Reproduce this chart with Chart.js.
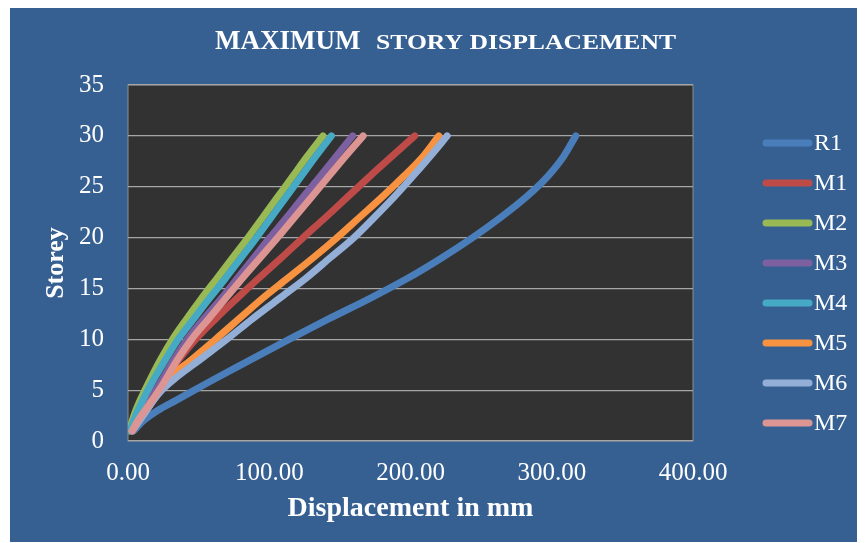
<!DOCTYPE html>
<html>
<head>
<meta charset="utf-8">
<title>Maximum Story Displacement</title>
<script src="https://cdn.jsdelivr.net/npm/chart.js@4"></script>
<style>
    html, body { margin: 0; padding: 0; background: #ffffff; }
    #wrap { position: absolute; left: 10px; top: 8px; width: 847px; height: 534px; }
</style>
</head>
<body>
<div id="wrap"><canvas id="storyChart" width="847" height="534"></canvas></div>
<script>
// Storey levels the displacements were read at
const storeys = [1, 2, 3, 4, 5, 6, 8, 10, 12, 14, 16, 18, 20, 22, 24, 26, 28, 30];

// Displacement in mm for each model, same order as storeys
const R1 = [4, 11, 21, 34, 47, 60, 87, 114, 142, 171, 198, 222, 244, 264, 282, 297, 308.5, 317];
const M1 = [2, 6, 10.5, 15, 20, 25, 36, 48, 62, 77, 92.5, 108.5, 124, 140, 155.5, 171, 187, 203];
const M2 = [1, 3, 5.5, 8.5, 12, 15.5, 23, 31.5, 41.5, 52, 63, 74, 85, 95.5, 106, 116.5, 127, 138];
const M3 = [2, 5, 9.5, 14.5, 19.5, 24, 32.5, 42, 53.5, 66, 77.5, 89, 100.5, 112.5, 124, 136, 147.5, 159];
const M4 = [1.5, 4, 7, 10.5, 14, 18, 26.5, 35.5, 46.5, 57.5, 69, 80, 91, 101.5, 112, 122.5, 133, 144];
const M5 = [3, 8, 13, 18, 23, 28, 45, 62, 78.5, 95, 113, 131, 148, 164, 180, 195, 209, 220];
const M6 = [3, 8, 13, 18, 24, 32, 51, 70, 88, 107, 126, 143, 160, 174.5, 188.5, 201.5, 214, 226];
const M7 = [3, 7, 12, 17, 22, 26.5, 35, 45, 57, 69, 81, 93.5, 106, 118, 130, 142, 154, 166.5];

const seriesNames = ['R1', 'M1', 'M2', 'M3', 'M4', 'M5', 'M6', 'M7'];
const seriesValues = [R1, M1, M2, M3, M4, M5, M6, M7];
const seriesColors = ['#4a7ebb', '#be4b48', '#98b954', '#7d60a0', '#46aac5', '#f69240', '#93afd8', '#dc9592'];

// Axis ticks
const xTicks = [0, 100, 200, 300, 400];
const yTicks = [0, 5, 10, 15, 20, 25, 30, 35];

const titleMain = 'MAXIMUM';
const titleRest = 'STORY DISPLACEMENT';
const xTitle = 'Displacement in mm';
const yTitle = 'Storey';

const serif = '"Liberation Serif", "Times New Roman", serif';

function start() {
    // Blue chart background and dark plot area
    const backgroundPlugin = {
        id: 'backgrounds',
        beforeDraw(chart) {
            const ctx = chart.ctx;
            const a = chart.chartArea;
            ctx.save();
            ctx.fillStyle = '#376092';
            ctx.fillRect(0, 0, chart.width, chart.height);
            ctx.fillStyle = '#323232';
            ctx.fillRect(a.left, a.top, a.right - a.left, a.bottom - a.top);
            ctx.strokeStyle = '#8c8c8c';
            ctx.lineWidth = 1;
            ctx.strokeRect(a.left, a.top, a.right - a.left, a.bottom - a.top);
            ctx.restore();
        }
    };

    // Title with the big first word and the rest in smaller caps
    const titlePlugin = {
        id: 'splitTitle',
        afterDraw(chart) {
            const ctx = chart.ctx;
            ctx.save();
            ctx.fillStyle = '#ffffff';
            ctx.textBaseline = 'alphabetic';
            ctx.textAlign = 'left';
            ctx.font = 'bold 27px ' + serif;
            ctx.fillText(titleMain, 205, 41);
            ctx.font = 'bold 20px ' + serif;
            const w = ctx.measureText(titleRest).width;
            ctx.translate(366, 41);
            ctx.scale(300 / w, 1);
            ctx.fillText(titleRest, 0, 0);
            ctx.restore();
        }
    };

    // Legend on the right, one row per series
    const legendPlugin = {
        id: 'sideLegend',
        afterDraw(chart) {
            const ctx = chart.ctx;
            ctx.save();
            ctx.font = '24px ' + serif;
            ctx.textBaseline = 'middle';
            ctx.textAlign = 'left';
            chart.data.datasets.forEach((ds, i) => {
                const y = 135 + i * 40;
                ctx.strokeStyle = ds.borderColor;
                ctx.lineWidth = 7;
                ctx.lineCap = 'round';
                ctx.beginPath();
                ctx.moveTo(756, y);
                ctx.lineTo(799, y);
                ctx.stroke();
                ctx.fillStyle = '#ffffff';
                ctx.fillText(ds.label, 804, y + 1);
            });
            ctx.restore();
        }
    };

    const datasets = seriesNames.map((name, i) => ({
        label: name,
        data: storeys.map((s, j) => ({ x: seriesValues[i][j], y: s })),
        borderColor: seriesColors[i],
        backgroundColor: seriesColors[i],
        borderWidth: 7,
        borderCapStyle: 'round',
        borderJoinStyle: 'round',
        pointRadius: 0,
        showLine: true,
        cubicInterpolationMode: 'monotone',
        order: seriesNames.length - i   // later series sit on top
    }));

    const ctx = document.getElementById('storyChart').getContext('2d');
    new Chart(ctx, {
        type: 'scatter',
        data: { datasets: datasets },
        options: {
            responsive: false,
            animation: false,
            events: [],
            layout: { padding: { top: 77, right: 164, bottom: 0, left: 0 } },
            plugins: {
                legend: { display: false },
                title: { display: false },
                tooltip: { enabled: false }
            },
            scales: {
                x: {
                    type: 'linear',
                    min: xTicks[0],
                    max: xTicks[xTicks.length - 1],
                    afterBuildTicks: scale => { scale.ticks = xTicks.map(v => ({ value: v })); },
                    afterFit: scale => { scale.height = 101; },
                    grid: { display: false, drawTicks: false },
                    border: { display: false },
                    ticks: {
                        color: '#ffffff',
                        font: { family: serif, size: 25 },
                        padding: 17,
                        maxRotation: 0,
                        callback: v => Number(v).toFixed(2)
                    },
                    title: {
                        display: true,
                        text: xTitle,
                        color: '#ffffff',
                        font: { family: serif, size: 28, weight: 'bold' },
                        padding: { top: 0, bottom: 16 }
                    }
                },
                y: {
                    type: 'linear',
                    min: yTicks[0],
                    max: yTicks[yTicks.length - 1],
                    afterBuildTicks: scale => { scale.ticks = yTicks.map(v => ({ value: v })); },
                    afterFit: scale => { scale.width = 118; },
                    grid: { color: '#a6a6a6', lineWidth: 1.2, drawTicks: false },
                    border: { display: false },
                    ticks: {
                        color: '#ffffff',
                        font: { family: serif, size: 25 },
                        padding: 24
                    },
                    title: {
                        display: true,
                        text: yTitle,
                        color: '#ffffff',
                        font: { family: serif, size: 26, weight: 'bold' },
                        padding: { top: 31, bottom: 0 }
                    }
                }
            }
        },
        plugins: [backgroundPlugin, titlePlugin, legendPlugin]
    });
}

window.addEventListener('load', start, false);
</script>
</body>
</html>
